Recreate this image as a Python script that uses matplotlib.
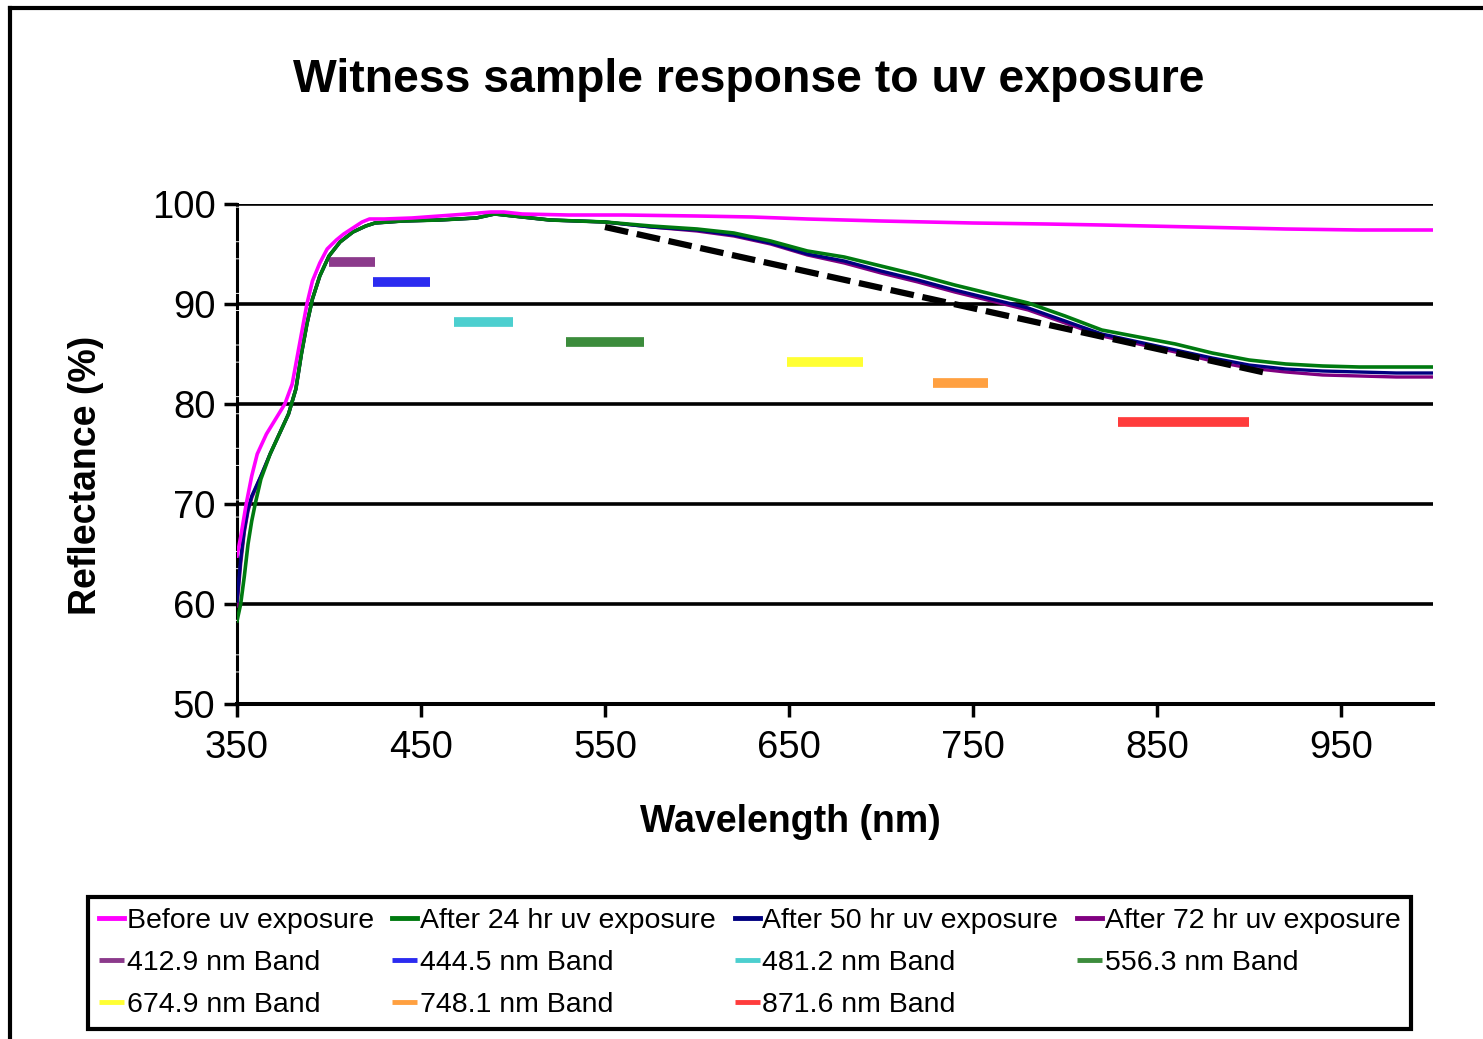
import numpy as np
import matplotlib
matplotlib.use('Agg')
import matplotlib.pyplot as plt
from matplotlib.lines import Line2D

plt.rcParams['font.family'] = ['Liberation Sans', 'DejaVu Sans']

## Reflectance curves
wl_before = [350, 352, 355, 358, 361, 366, 371, 376, 380, 383, 386, 388, 391, 395, 399,
             404, 408, 413, 418, 422, 430, 445, 460, 475, 488, 495, 505, 530, 560, 600,
             630, 660, 700, 750, 790, 820, 870, 920, 960, 1000]
before = [64.8, 66.7, 70.0, 72.8, 75.0, 77.0, 78.5, 80.0, 82.0, 85.0, 88.0, 90.0, 92.3, 94.1, 95.5,
          96.4, 97.0, 97.6, 98.2, 98.5, 98.5, 98.6, 98.8, 99.0, 99.2, 99.2, 99.0, 98.9, 98.9, 98.8,
          98.7, 98.5, 98.3, 98.1, 98.0, 97.9, 97.7, 97.5, 97.4, 97.4]

wl_aged = [350, 352, 354, 356, 358, 360, 363, 368, 373, 378, 382, 385, 388, 391, 395,
           400, 406, 413, 420, 425, 440, 460, 480, 490, 500, 520, 550, 575, 600, 620,
           640, 660, 680, 700, 720, 740, 760, 780, 800, 820, 840, 860, 880, 900, 920,
           940, 960, 980, 1000]
after24 = [58.3, 60.0, 62.8, 66.0, 68.3, 70.1, 72.5, 75.0, 77.0, 79.0, 81.5, 85.0, 88.0, 90.5, 92.8,
           94.8, 96.2, 97.2, 97.8, 98.1, 98.3, 98.4, 98.6, 99.0, 98.8, 98.4, 98.2, 97.8, 97.5, 97.1,
           96.3, 95.3, 94.7, 93.8, 92.9, 91.9, 91.0, 90.1, 88.8, 87.4, 86.7, 86.0, 85.1, 84.4, 84.0,
           83.8, 83.7, 83.7, 83.7]
after50 = [60.3, 64.5, 67.5, 69.5, 70.8, 71.6, 72.8, 75.0, 77.0, 79.0, 81.5, 85.0, 88.0, 90.5, 92.8,
           94.8, 96.2, 97.2, 97.8, 98.1, 98.3, 98.4, 98.6, 99.0, 98.8, 98.4, 98.2, 97.7, 97.4, 96.9,
           96.1, 95.0, 94.3, 93.3, 92.4, 91.4, 90.5, 89.6, 88.3, 87.0, 86.2, 85.4, 84.6, 83.9, 83.5,
           83.3, 83.2, 83.1, 83.1]
after72 = [59.8, 64.0, 67.2, 69.3, 70.6, 71.5, 72.8, 75.0, 77.0, 79.0, 81.5, 85.0, 88.0, 90.5, 92.8,
           94.8, 96.2, 97.2, 97.8, 98.1, 98.3, 98.4, 98.6, 99.0, 98.8, 98.4, 98.2, 97.7, 97.3, 96.8,
           96.0, 94.9, 94.1, 93.1, 92.2, 91.2, 90.3, 89.4, 88.1, 86.8, 86.0, 85.2, 84.3, 83.6, 83.2,
           82.9, 82.8, 82.7, 82.7]

## Sensor bands (horizontal bars)
band_labels = ['412.9 nm Band', '444.5 nm Band', '481.2 nm Band', '556.3 nm Band',
               '674.9 nm Band', '748.1 nm Band', '871.6 nm Band']
band_start = [400, 424, 468, 529, 649, 728, 829]
band_end = [425, 455, 500, 571, 690, 758, 900]
band_level = [94.2, 92.2, 88.2, 86.2, 84.2, 82.1, 78.2]
band_colors = ['#8b3a8b', '#2b2bf0', '#4ccfcf', '#3c8c3c', '#ffff33', '#ffa040', '#ff3c3c']

## Dashed trend line
trend_wl = [550, 912]
trend_val = [97.7, 83.0]

xticks = [350, 450, 550, 650, 750, 850, 950]
yticks = [50, 60, 70, 80, 90, 100]

W, H = 1483, 1039
fig = plt.figure(figsize=(W/100, H/100), dpi=100)
ax = fig.add_axes([237/W, 1-704/H, (1433-237)/W, (704-204)/H])

# grid first so curves sit on top
for yv in yticks[1:]:
    ax.axhline(yv, color='black', lw=2.6, zorder=1)

h72, = ax.plot(wl_aged, after72, color='#800080', lw=2.4, zorder=3)
h50, = ax.plot(wl_aged, after50, color='#000080', lw=2.4, zorder=3)
h24, = ax.plot(wl_aged, after24, color='#007a10', lw=2.6, zorder=4)
hb, = ax.plot(wl_before, before, color='#ff00ff', lw=2.6, zorder=5)

band_handles = []
for s, e, lv, c in zip(band_start, band_end, band_level, band_colors):
    bh, = ax.plot([s, e], [lv, lv], color=c, lw=7, solid_capstyle='butt', zorder=2)
    band_handles.append(bh)

ax.plot(trend_wl, trend_val, color='black', lw=4.5, dashes=(3.8, 1.4), zorder=6)

ax.set_xlim(350, 1000)
ax.set_ylim(50, 100)
ax.set_xticks(xticks)
ax.set_yticks(yticks)
ax.tick_params(axis='both', labelsize=27.5, length=9.5, width=2.5, direction='out', pad=6)
ax.tick_params(axis='x', pad=9)

for sp in ['top', 'right']:
    ax.spines[sp].set_visible(False)
ax.spines['bottom'].set_linewidth(2.9)
ax.spines['left'].set_linewidth(2.2)
ax.spines['left'].set_linestyle((0, (10, 1.3, 4.3, 1.3)))

fig.text(749/W, 1-80/H, 'Witness sample response to uv exposure',
         ha='center', va='center', fontsize=33.4, fontweight='bold')
fig.text(790/W, 1-822/H, 'Wavelength (nm)', ha='center', va='center',
         fontsize=27, fontweight='bold')
fig.text(86/W, 1-475/H, 'Reflectance (%)', ha='center', va='center',
         fontsize=27, fontweight='bold', rotation=90)

# legend: matplotlib fills columns first, so order the entries column by column
handles = [hb, band_handles[0], band_handles[4],
           h24, band_handles[1], band_handles[5],
           h50, band_handles[2], band_handles[6],
           h72, band_handles[3]]
labels = ['Before uv exposure', band_labels[0], band_labels[4],
          'After 24 hr uv exposure', band_labels[1], band_labels[5],
          'After 50 hr uv exposure', band_labels[2], band_labels[6],
          'After 72 hr uv exposure', band_labels[3]]
leg = fig.legend(handles, labels, ncol=4, loc='upper left',
                 bbox_to_anchor=(88/W, 1-897/H), borderaxespad=0,
                 fontsize=20.5, handlelength=0.88, handletextpad=0.1,
                 columnspacing=0.65, labelspacing=0.56, borderpad=0.38,
                 fancybox=False, edgecolor='black', framealpha=1)
leg.get_frame().set_linewidth(3)
for lh in leg.legend_handles:
    lh.set_linewidth(3.5)

# outer frame (left and top edges only)
fig.add_artist(Line2D([10/W, 10/W], [0, 1-7.5/H], transform=fig.transFigure, color='black', lw=3))
fig.add_artist(Line2D([10/W, 1], [1-7.5/H, 1-7.5/H], transform=fig.transFigure, color='black', lw=3))

fig.savefig('out.png', dpi=100)
